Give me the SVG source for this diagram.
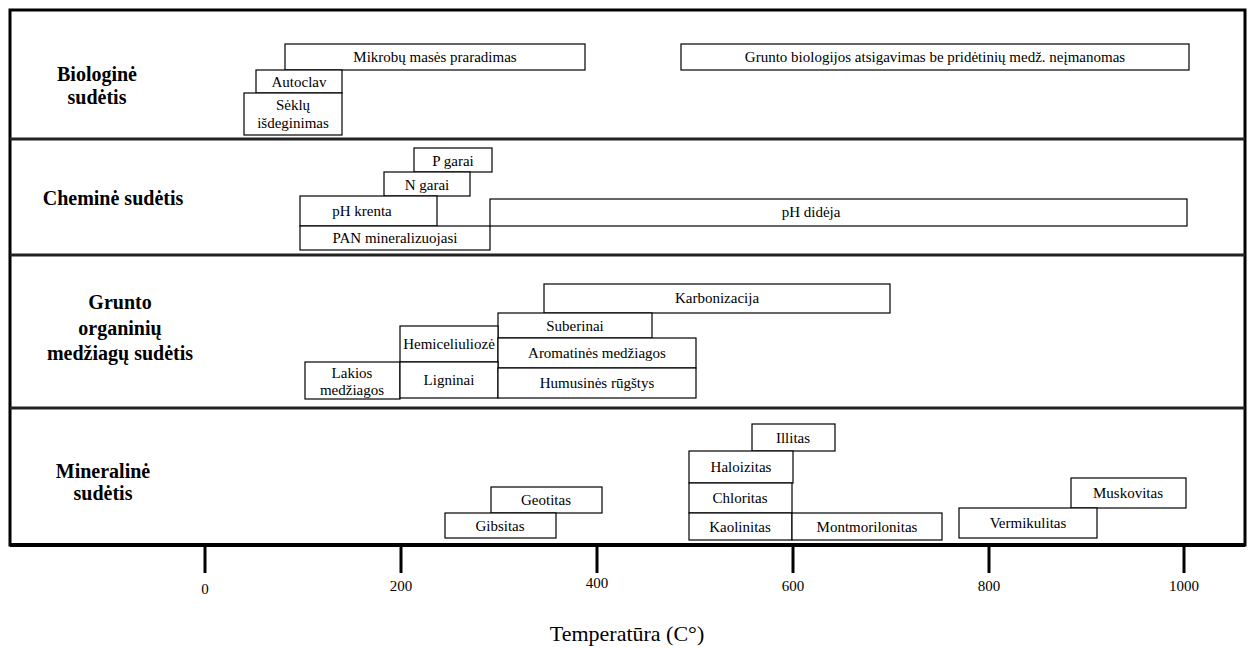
<svg xmlns="http://www.w3.org/2000/svg" width="1255" height="648" viewBox="0 0 1255 648">
<style>
.frame{fill:none;stroke:#000;stroke-width:3}
.sep{stroke:#222;stroke-width:3}
.box{fill:#fff;stroke:#000;stroke-width:1.2}
.t{font-family:"Liberation Serif","Times New Roman",serif;font-size:15px;fill:#000;text-anchor:middle}
.h{font-family:"Liberation Serif","Times New Roman",serif;font-size:20px;font-weight:bold;fill:#000;text-anchor:middle}
.ax{font-family:"Liberation Serif","Times New Roman",serif;font-size:15px;fill:#000;text-anchor:middle}
.tick{stroke:#000;stroke-width:3}
</style>
<rect width="1255" height="648" fill="#fff"/>
<g id="frame">
<rect class="frame" x="10" y="10" width="1235" height="535"/>
<line class="sep" x1="10" y1="139" x2="1245" y2="139"/>
<line class="sep" x1="10" y1="255" x2="1245" y2="255"/>
<line class="sep" x1="10" y1="408" x2="1245" y2="408"/>
<line x1="10" y1="545" x2="1245" y2="545" stroke="#000" stroke-width="4"/>
</g>
<g id="band-bio">
<text class="h" x="97" y="81">Biologinė</text>
<text class="h" x="97" y="104">sudėtis</text>
<g id="mikrobu"><rect class="box" x="285" y="44" width="300" height="26"/><text class="t" x="435" y="62">Mikrobų masės praradimas</text></g>
<g id="autoclav"><rect class="box" x="256" y="70" width="86" height="23"/><text class="t" x="299" y="87">Autoclav</text></g>
<g id="seklu"><rect class="box" x="244" y="93" width="98" height="42"/><text class="t" x="293" y="110">Sėklų</text><text class="t" x="293" y="128">išdeginimas</text></g>
<g id="grunto-bio"><rect class="box" x="681" y="44" width="508" height="26"/><text class="t" x="935" y="62">Grunto biologijos atsigavimas be pridėtinių medž. neįmanomas</text></g>
</g>
<g id="band-chem">
<text class="h" x="113" y="205" font-size="23">Cheminė sudėtis</text>
<g id="p-garai"><rect class="box" x="414" y="148" width="78" height="24"/><text class="t" x="453" y="166">P garai</text></g>
<g id="n-garai"><rect class="box" x="384" y="172" width="86" height="24"/><text class="t" x="427" y="190">N garai</text></g>
<g id="ph-krenta"><rect class="box" x="300" y="196" width="137" height="30"/><text class="t" x="362" y="216">pH krenta</text></g>
<g id="pan"><rect class="box" x="300" y="226" width="190" height="24"/><text class="t" x="395" y="243">PAN mineralizuojasi</text></g>
<g id="ph-dideja"><rect class="box" x="490" y="199" width="697" height="27"/><text class="t" x="811" y="217">pH didėja</text></g>
</g>
<g id="band-org">
<text class="h" x="120" y="309">Grunto</text>
<text class="h" x="120" y="335">organinių</text>
<text class="h" x="120" y="360">medžiagų sudėtis</text>
<g id="karbonizacija"><rect class="box" x="544" y="284" width="346" height="29"/><text class="t" x="717" y="303">Karbonizacija</text></g>
<g id="suberinai"><rect class="box" x="498" y="313" width="154" height="25"/><text class="t" x="575" y="331">Suberinai</text></g>
<g id="hemiceliulioze"><rect class="box" x="400" y="326" width="98" height="36"/><text class="t" x="449" y="349">Hemiceliuliozė</text></g>
<g id="aromatines"><rect class="box" x="498" y="338" width="198" height="30"/><text class="t" x="597" y="358">Aromatinės medžiagos</text></g>
<g id="lakios"><rect class="box" x="305" y="362" width="95" height="37"/><text class="t" x="352" y="378">Lakios</text><text class="t" x="352" y="395">medžiagos</text></g>
<g id="ligninai"><rect class="box" x="400" y="362" width="98" height="36"/><text class="t" x="449" y="385">Ligninai</text></g>
<g id="humusines"><rect class="box" x="498" y="368" width="198" height="30"/><text class="t" x="597" y="388">Humusinės rūgštys</text></g>
</g>
<g id="band-min">
<text class="h" x="103" y="478">Mineralinė</text>
<text class="h" x="103" y="500">sudėtis</text>
<g id="illitas"><rect class="box" x="752" y="424" width="83" height="27"/><text class="t" x="793" y="443">Illitas</text></g>
<g id="haloizitas"><rect class="box" x="689" y="451" width="104" height="32"/><text class="t" x="741" y="472">Haloizitas</text></g>
<g id="chloritas"><rect class="box" x="689" y="483" width="103" height="30"/><text class="t" x="740" y="503">Chloritas</text></g>
<g id="kaolinitas"><rect class="box" x="689" y="513" width="103" height="27"/><text class="t" x="740" y="532">Kaolinitas</text></g>
<g id="montmorilonitas"><rect class="box" x="792" y="513" width="150" height="27"/><text class="t" x="867" y="532">Montmorilonitas</text></g>
<g id="geotitas"><rect class="box" x="491" y="487" width="111" height="26"/><text class="t" x="546" y="505">Geotitas</text></g>
<g id="gibsitas"><rect class="box" x="445" y="513" width="111" height="25"/><text class="t" x="500" y="531">Gibsitas</text></g>
<g id="muskovitas"><rect class="box" x="1071" y="478" width="115" height="30"/><text class="t" x="1128" y="498">Muskovitas</text></g>
<g id="vermikulitas"><rect class="box" x="959" y="508" width="138" height="30"/><text class="t" x="1028" y="528">Vermikulitas</text></g>
</g>
<g id="axis">
<line class="tick" x1="205" y1="545" x2="205" y2="573"/>
<line class="tick" x1="401" y1="545" x2="401" y2="573"/>
<line class="tick" x1="597" y1="545" x2="597" y2="573"/>
<line class="tick" x1="793" y1="545" x2="793" y2="573"/>
<line class="tick" x1="989" y1="545" x2="989" y2="573"/>
<line class="tick" x1="1184" y1="545" x2="1184" y2="573"/>
<text class="ax" x="205" y="594">0</text>
<text class="ax" x="401" y="591">200</text>
<text class="ax" x="597" y="588">400</text>
<text class="ax" x="793" y="591">600</text>
<text class="ax" x="989" y="591">800</text>
<text class="ax" x="1184" y="591">1000</text>
<text x="627" y="641" font-family="Liberation Serif,Times New Roman,serif" font-size="22" text-anchor="middle">Temperatūra (C°)</text>
</g>
</svg>
